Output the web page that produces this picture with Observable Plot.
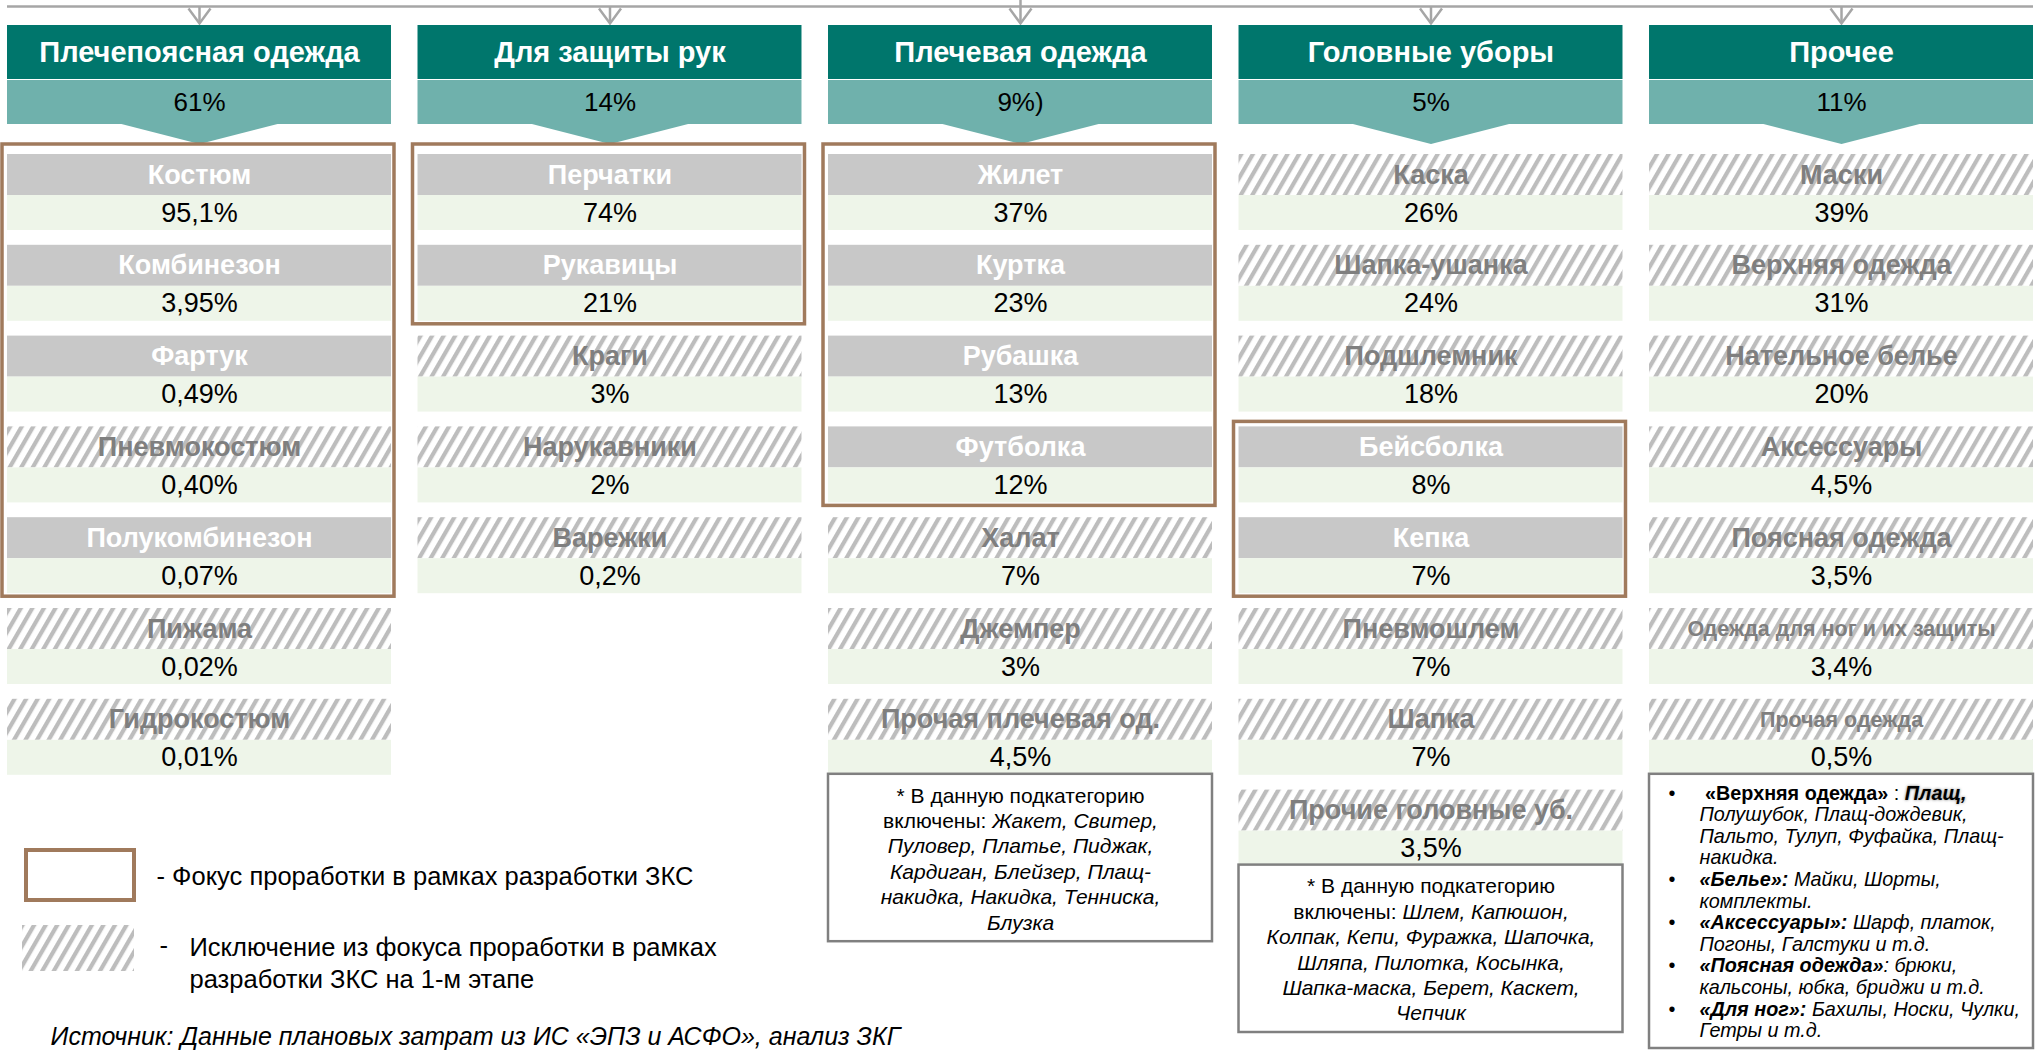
<!DOCTYPE html>
<html><head><meta charset="utf-8">
<script src="https://cdn.jsdelivr.net/npm/d3@7"></script>
<script src="https://cdn.jsdelivr.net/npm/@observablehq/plot@0.6"></script>
<style>html,body{margin:0;padding:0;background:#fff;overflow:hidden}</style>
</head><body><div id="chart"></div>
<script>
// ---------------- DATA ----------------
const categories = ["Плечепоясная одежда", "Для защиты рук", "Плечевая одежда", "Головные уборы", "Прочее"];
const categoryShares = ["61%", "14%", "9%)", "5%", "11%"];
const itemLabels = [
  ["Костюм", "Комбинезон", "Фартук", "Пневмокостюм", "Полукомбинезон", "Пижама", "Гидрокостюм"],
  ["Перчатки", "Рукавицы", "Краги", "Нарукавники", "Варежки"],
  ["Жилет", "Куртка", "Рубашка", "Футболка", "Халат", "Джемпер", "Прочая плечевая од."],
  ["Каска", "Шапка-ушанка", "Подшлемник", "Бейсболка", "Кепка", "Пневмошлем", "Шапка", "Прочие головные уб."],
  ["Маски", "Верхняя одежда", "Нательное белье", "Аксессуары", "Поясная одежда", "Одежда для ног и их защиты", "Прочая одежда"]
];
const itemShares = [
  ["95,1%", "3,95%", "0,49%", "0,40%", "0,07%", "0,02%", "0,01%"],
  ["74%", "21%", "3%", "2%", "0,2%"],
  ["37%", "23%", "13%", "12%", "7%", "3%", "4,5%"],
  ["26%", "24%", "18%", "8%", "7%", "7%", "7%", "3,5%"],
  ["39%", "31%", "20%", "4,5%", "3,5%", "3,4%", "0,5%"]
];
// 1 = excluded from focus (hatched)
const itemExcluded = [
  [0, 0, 0, 1, 0, 1, 1],
  [0, 0, 1, 1, 1],
  [0, 0, 0, 0, 1, 1, 1],
  [1, 1, 1, 0, 0, 1, 1, 1],
  [1, 1, 1, 1, 1, 1, 1]
];
// focus (brown frame): first..last item index per category
const focusGroups = [[0, 4], [0, 1], [0, 3], [3, 4], null];
const noteCategories = ["Плечевая одежда", "Головные уборы", "Прочее"];
const noteTexts = [
  ["* В данную подкатегорию", "включены: {i:Жакет, Свитер,}", "{i:Пуловер, Платье, Пиджак,}",
   "{i:Кардиган, Блейзер, Плащ-}", "{i:накидка, Накидка, Тенниска,}", "{i:Блузка}"],
  ["* В данную подкатегорию", "включены: {i:Шлем, Капюшон,}", "{i:Колпак, Кепи, Фуражка, Шапочка,}",
   "{i:Шляпа, Пилотка, Косынка,}", "{i:Шапка-маска, Берет, Каскет,}", "{i:Чепчик}"],
  [" {b:«Верхняя одежда»} : {h:Плащ,}", "{i:Полушубок, Плащ-дождевик,}", "{i:Пальто, Тулуп, Фуфайка, Плащ-}",
   "{i:накидка.}", "{bi:«Белье»:} {i:Майки, Шорты,}", "{i:комплекты.}", "{bi:«Аксессуары»:} {i:Шарф, платок,}",
   "{i:Погоны, Галстуки и т.д.}", "{bi:«Поясная одежда»}{i:: брюки,}", "{i:кальсоны, юбка, бриджи и т.д.}",
   "{bi:«Для ног»:} {i:Бахилы, Носки, Чулки,}", "{i:Гетры и т.д.}"]
];
const legendFocusText = "- Фокус проработки в рамках разработки ЗКС";
const legendExclText = "Исключение из фокуса проработки в рамках\nразработки ЗКС на 1-м этапе";
const sourceText = "Источник: Данные плановых затрат из ИС «ЭПЗ и АСФО», анализ ЗКГ";

// ---------------- LAYOUT / STYLE ----------------
const W = 2035, H = 1051;
const FONT = "'Liberation Sans', Arial, Helvetica, sans-serif";
const DARK = "#00766C", LIGHT = "#6FB1AC", GRAY = "#C8C8C8", GREEN = "#EEF5E9";
const BROWN = "#A07A5C", LINE = "#A6A6A6", NOTE = "#808080", HATCHTXT = "#7F7F7F";
const X0 = 7, X1 = 2033, PAD_IN = 0.0646;
const STEP = (X1 - X0) / (categories.length - PAD_IN), BW = STEP * (1 - PAD_IN);
const ROW0 = 154, ROWH = 90.8, LAB = 41, VAL = 35;
const u = px => (px - ROW0) / ROWH;   // absolute pixel -> row units
const du = px => px / ROWH;           // pixel length -> row units

const rows = [];
categories.forEach((cat, c) => itemLabels[c].forEach((label, i) => rows.push({
  cat, c, i, label, value: itemShares[c][i], excl: itemExcluded[c][i] === 1
})));
const labelSize = d => (d.label === "Одежда для ног и их защиты" || d.label === "Прочая одежда") ? 21.5 : 27;

const focus = focusGroups.map((g, c) => g && {cat: categories[c], start: g[0], end: g[1]}).filter(Boolean);

const notes = noteCategories.map((cat, k) => {
  const c = categories.indexOf(cat);
  const n = noteTexts[k].length;
  const left = cat === "Прочее";
  const lh = left ? 21.6 : 25.4;
  const top = (itemLabels[c].length - 1) + du(LAB + VAL - 1);
  return {cat, lines: noteTexts[k], n, lh, top, bottom: top + du(n * lh + 15), mid: top + du(7.5 + n * lh / 2), left};
});

const vSymbol = {draw(ctx) { ctx.moveTo(-11, -15); ctx.lineTo(0, 0); ctx.lineTo(11, -15); }};
const triSymbol = {draw(ctx) { ctx.moveTo(-82, -1.5); ctx.lineTo(82, -1.5); ctx.lineTo(0, 19.5); ctx.closePath(); }};

function defsAndLegend() {
  const g = d3.create("svg:g");
  const p = g.append("defs").append("pattern").attr("id", "hatch")
    .attr("patternUnits", "userSpaceOnUse").attr("width", 10).attr("height", 10)
    .attr("patternTransform", "rotate(30)");
  p.append("rect").attr("width", 10).attr("height", 10).attr("fill", "#fff");
  p.append("rect").attr("width", 4.2).attr("height", 10).attr("fill", "#BDBDBD");
  g.append("rect").attr("x", 26).attr("y", 850).attr("width", 108).attr("height", 50)
    .attr("fill", "#fff").attr("stroke", BROWN).attr("stroke-width", 4);
  g.append("rect").attr("x", 22).attr("y", 925).attr("width", 112).attr("height", 46)
    .attr("fill", "url(#hatch)");
  return g.node();
}

const chart = Plot.plot({
  width: W, height: H,
  marginTop: 0, marginRight: 0, marginBottom: 0, marginLeft: 0,
  style: {fontFamily: FONT, background: "#fff", overflow: "visible"},
  x: {type: "band", domain: categories, range: [X0, X1], paddingInner: PAD_IN, paddingOuter: 0, align: 0.5, round: false, axis: null},
  y: {type: "linear", domain: [0, 1], range: [ROW0, ROW0 + ROWH], axis: null},
  marks: [
    defsAndLegend,
    // connector
    Plot.ruleY([u(6)], {x1: () => categories[0], x2: () => categories[categories.length - 1], y: d => d, stroke: LINE, strokeWidth: 2.5}),
    Plot.ruleX([categories[2]], {x: d => d, y1: u(-2), y2: u(6), stroke: LINE, strokeWidth: 2.5}),
    Plot.ruleX(categories, {x: d => d, y1: u(6), y2: u(23), stroke: LINE, strokeWidth: 2.5}),
    Plot.dot(categories, {x: d => d, y: u(23), symbol: vSymbol, fill: "none", stroke: LINE, strokeWidth: 2.5}),
    // headers
    Plot.barY(categories, {x: d => d, y1: u(25), y2: u(79), fill: DARK}),
    Plot.barY(categories, {x: d => d, y1: u(80), y2: u(124), fill: LIGHT}),
    Plot.dot(categories, {x: d => d, y: u(124), symbol: triSymbol, fill: LIGHT, stroke: "none"}),
    Plot.text(categories, {x: d => d, y: u(52), text: d => d, fill: "#fff", fontWeight: "bold", fontSize: 29}),
    Plot.text(categories, {x: d => d, y: u(102), text: (d, i) => categoryShares[i], fill: "#000", fontSize: 26}),
    // item cells
    Plot.barY(rows.filter(d => !d.excl), {x: "cat", y1: d => d.i, y2: d => d.i + du(LAB), fill: GRAY}),
    Plot.barY(rows.filter(d => d.excl), {x: "cat", y1: d => d.i, y2: d => d.i + du(LAB), fill: "#fff", ariaDescription: "hatched"}),
    Plot.barY(rows, {x: "cat", y1: d => d.i + du(LAB), y2: d => d.i + du(LAB + VAL), fill: GREEN}),
    Plot.text(rows.filter(d => !d.excl), {x: "cat", y: d => d.i + du(LAB / 2), text: "label", fill: "#fff", fontWeight: "bold", fontSize: labelSize}),
    Plot.text(rows.filter(d => d.excl), {x: "cat", y: d => d.i + du(LAB / 2), text: "label", fill: HATCHTXT, fontWeight: "bold", fontSize: labelSize}),
    Plot.text(rows, {x: "cat", y: d => d.i + du(LAB + VAL / 2), text: "value", fill: "#000", fontSize: 27}),
    // focus frames
    Plot.barY(focus, {x: "cat", y1: d => d.start - du(d.start === 0 ? 10 : 5), y2: d => d.end + du(LAB + VAL + 3),
      fill: "none", stroke: BROWN, strokeWidth: 3.5, insetLeft: -5, insetRight: -3}),
    // note boxes
    Plot.barY(notes, {x: "cat", y1: "top", y2: "bottom", fill: "#fff", stroke: NOTE, strokeWidth: 2.5}),
    Plot.text(notes.filter(d => !d.left), {x: "cat", y: "mid", text: d => d.lines.join("\n"), fontSize: 21, lineHeight: 25.4 / 21, fill: "#000"}),
    Plot.text(notes.filter(d => d.left), {x: "cat", y: "mid", text: d => d.lines.join("\n"), fontSize: 19.8, lineHeight: 21.6 / 19.8,
      textAnchor: "start", dx: 50 - BW / 2, fill: "#000"}),
    Plot.text(notes.filter(d => d.left), {x: "cat", y: "mid", text: d => d.lines.map(l => l.startsWith("{bi:«") || l.startsWith(" {b:") ? "•" : "").join("\n"),
      fontSize: 19.8, lineHeight: 21.6 / 19.8, textAnchor: "start", dx: 19 - BW / 2, fill: "#000"}),
    // legend & source
    Plot.text([legendFocusText], {frameAnchor: "top-left", lineAnchor: "middle", dx: 156, dy: 876, text: d => d, textAnchor: "start", fontSize: 25.5, fill: "#000"}),
    Plot.text(["-"], {frameAnchor: "top-left", lineAnchor: "middle", dx: 159, dy: 945, text: d => d, textAnchor: "start", fontSize: 25.5, fill: "#000"}),
    Plot.text([legendExclText], {frameAnchor: "top-left", lineAnchor: "middle", dx: 189, dy: 961, text: d => d, textAnchor: "start", fontSize: 25.5, lineHeight: 1.26, fill: "#000"}),
    Plot.text([sourceText], {frameAnchor: "top-left", lineAnchor: "middle", dx: 50, dy: 1036, text: d => d, textAnchor: "start", fontSize: 25, fontStyle: "italic", fill: "#000"})
  ]
});

// hatch fill for excluded cells
d3.select(chart).selectAll('g[aria-description="hatched"] rect').attr("fill", "url(#hatch)");

// inline markup {b:..} {i:..} {bi:..} {h:..}
const NS = "http://www.w3.org/2000/svg";
function applyMarkup(el) {
  const s = el.textContent;
  if (!/\{(bi|b|i|h):/.test(s)) return;
  while (el.firstChild) el.removeChild(el.firstChild);
  const re = /\{(bi|b|i|h):([^}]*)\}/g;
  let last = 0, m;
  const add = (t, st) => {
    if (!t) return;
    const ts = document.createElementNS(NS, "tspan");
    ts.textContent = t;
    if (st.includes("b") || st === "h") ts.setAttribute("font-weight", "bold");
    if (st.includes("i") || st === "h") ts.setAttribute("font-style", "italic");
    if (st === "h") ts.setAttribute("style", "text-shadow: 0 0 3px #777");
    el.appendChild(ts);
  };
  while ((m = re.exec(s))) { add(s.slice(last, m.index), ""); add(m[2], m[1]); last = re.lastIndex; }
  add(s.slice(last), "");
}
chart.querySelectorAll("text").forEach(t => {
  const spans = t.querySelectorAll(":scope > tspan");
  if (spans.length) spans.forEach(applyMarkup); else applyMarkup(t);
});

document.getElementById("chart").appendChild(chart);
</script>
</body></html>
